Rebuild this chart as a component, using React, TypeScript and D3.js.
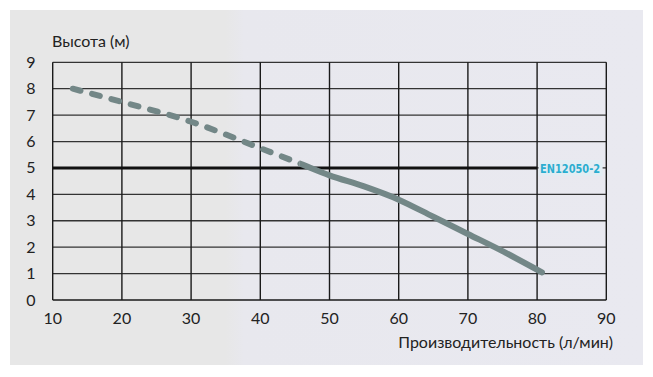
import React from "react";
import * as d3 from "d3";

const xTicks = [10, 20, 30, 40, 50, 60, 70, 80, 90];
const yTicks = [0, 1, 2, 3, 4, 5, 6, 7, 8, 9];
const curveFlow = [12.9, 20, 30, 40, 45.7, 50, 55, 60, 65, 70, 75, 80.7];
const curveHead = [8.0, 7.5, 6.75, 5.75, 5.17, 4.72, 4.3, 3.8, 3.15, 2.5, 1.85, 1.05];
const dashedUntil = 45.7;
const standardHead = 5;
const standardLabel = "EN12050-2";
const yTitle = "Высота (м)";
const xTitle = "Производительность (л/мин)";

const W = 653, H = 377;
const font = "Lato, 'Open Sans', sans-serif";

export default function App() {
  const x = d3.scaleLinear().domain([10, 90]).range([52.7, 606.3]);
  const y = d3.scaleLinear().domain([0, 9]).range([300, 62.3]);
  const line = d3.line<[number, number]>().x(d => x(d[0])).y(d => y(d[1])).curve(d3.curveMonotoneX);
  const pts = curveFlow.map((f, i) => [f, curveHead[i]] as [number, number]);
  const d = line(pts) || "";
  const xs = x(dashedUntil);
  return (
    <svg width={W} height={H} style={{ position: "absolute", left: 0, top: 0 }}>
      <defs>
        <linearGradient id="bg" x1="0" x2="1" y1="0" y2="0">
          <stop offset="0" stopColor="#e7e7e7" />
          <stop offset="0.34" stopColor="#e7e7e7" />
          <stop offset="0.37" stopColor="#e8e8ee" />
          <stop offset="1" stopColor="#e9e9f0" />
        </linearGradient>
        <clipPath id="cd"><rect x={0} y={0} width={xs} height={H} /></clipPath>
        <clipPath id="cs"><rect x={xs} y={0} width={W - xs} height={H} /></clipPath>
      </defs>
      <rect x={0} y={0} width={W} height={H} fill="#ffffff" />
      <rect x={10} y={10} width={633} height={355} fill="url(#bg)" />
      {yTicks.filter(t => t > 0).map(t => (
        <line key={"h" + t} x1={x(10)} x2={x(90)} y1={y(t)} y2={y(t)} stroke="#333" strokeWidth={1.3} />
      ))}
      {xTicks.map(t => (
        <line key={"v" + t} x1={x(t)} x2={x(t)} y1={y(9)} y2={y(0)} stroke="#1a1a1a" strokeWidth={1.4} />
      ))}
      <line x1={x(10)} x2={x(90)} y1={y(0)} y2={y(0)} stroke="#1a1a1a" strokeWidth={1.4} />
      <line x1={x(10)} x2={x(80)} y1={y(standardHead)} y2={y(standardHead)} stroke="#111" strokeWidth={3} />
      <rect x={x(80) + 1.5} y={y(standardHead) - 8} width={64} height={16} fill="#e2edf3" />
      <text x={x(80) + 3} y={y(standardHead) + 5} fill="#2aaed0" fontSize={13} fontWeight="bold"
        fontFamily="'DejaVu Sans', sans-serif" textLength={60} lengthAdjust="spacingAndGlyphs">
        {standardLabel}
      </text>
      <path d={d} clipPath="url(#cd)" fill="none" stroke="#738787" strokeWidth={6} strokeLinecap="round"
        strokeDasharray="8 12" />
      <path d={d} clipPath="url(#cs)" fill="none" stroke="#738787" strokeWidth={6} strokeLinecap="round" />
      {yTicks.map(t => (
        <text key={"yl" + t} x={31} y={y(t) + 5.5} textAnchor="middle" fontSize={16} fill="#222" fontFamily={font}>{t}</text>
      ))}
      {xTicks.map(t => (
        <text key={"xl" + t} x={x(t)} y={324} textAnchor="middle" fontSize={16} fill="#222" fontFamily={font}>{t}</text>
      ))}
      <text x={52} y={47} fontSize={16} fill="#222" fontFamily={font}>{yTitle}</text>
      <text x={613} y={348} textAnchor="end" fontSize={16} fill="#222" fontFamily={font}>{xTitle}</text>
    </svg>
  );
}
